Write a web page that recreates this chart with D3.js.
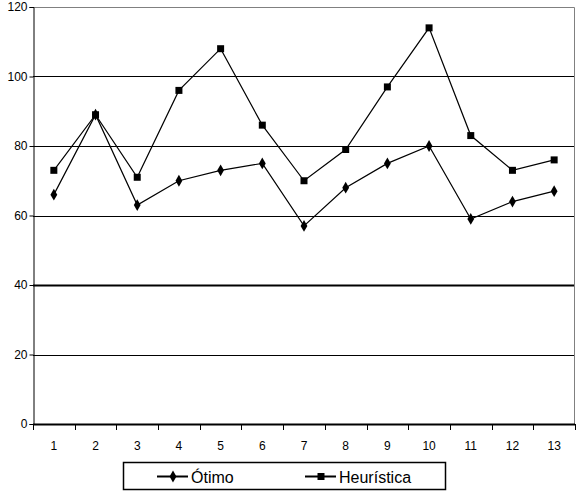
<!DOCTYPE html>
<html>
<head>
<meta charset="utf-8">
<script src="https://cdn.jsdelivr.net/npm/d3@7"></script>
<style>
  body { margin: 0; background: #fff; }
  text { font-family: Arial, "Liberation Sans", sans-serif; fill: #000; }
</style>
</head>
<body>
<svg id="chart" width="576" height="491"></svg>
<script>
// values
const categories = ["1", "2", "3", "4", "5", "6", "7", "8", "9", "10", "11", "12", "13"];
const otimo = [66, 89, 63, 70, 73, 75, 57, 68, 75, 80, 59, 64, 67];
const heuristica = [73, 89, 71, 96, 108, 86, 70, 79, 97, 114, 83, 73, 76];
const yTicks = [0, 20, 40, 60, 80, 100, 120];
const seriesNames = ["Ótimo", "Heurística"];

const svg = d3.select("#chart");
const plotL = 33, plotR = 575, plotT = 7, plotB = 424;

const x = d3.scaleBand().domain(categories).range([plotL, plotR]);
const y = d3.scaleLinear().domain([0, 120]).range([plotB, plotT]);

// gridlines
svg.append("g").selectAll("line")
    .data(yTicks.filter(d => d > 0 && d < 120))
    .join("line")
    .attr("x1", plotL).attr("x2", plotR)
    .attr("y1", d => Math.round(y(d)) + 0.5).attr("y2", d => Math.round(y(d)) + 0.5)
    .attr("stroke", "#000")
    .attr("stroke-width", d => d == 40 ? 2 : 1);

// plot area border (top and right, grey)
svg.append("path")
    .attr("d", `M${plotL},${plotT + 0.5}H${plotR - 0.5}V${plotB}`)
    .attr("fill", "none").attr("stroke", "#808080");

// y axis
const yAxis = svg.append("g")
    .attr("transform", `translate(${plotL + 0.5},0)`)
    .call(d3.axisLeft(y).tickValues(yTicks).tickSize(4).tickPadding(2));
yAxis.select(".domain").attr("stroke", "#000");
yAxis.selectAll("text").style("font-size", "12px");

// x axis with ticks between categories
svg.append("line")
    .attr("x1", plotL).attr("x2", plotR)
    .attr("y1", plotB + 0.5).attr("y2", plotB + 0.5)
    .attr("stroke", "#000").attr("stroke-width", 2);
svg.append("g").selectAll("line")
    .data(categories.concat([null]))
    .join("line")
    .attr("x1", (d, i) => Math.round(plotL + i * x.step()) + 0.5)
    .attr("x2", (d, i) => Math.round(plotL + i * x.step()) + 0.5)
    .attr("y1", plotB).attr("y2", plotB + 6)
    .attr("stroke", "#000");
svg.append("g").selectAll("text")
    .data(categories)
    .join("text")
    .attr("x", d => x(d) + x.bandwidth() / 2)
    .attr("y", plotB + 26)
    .attr("text-anchor", "middle")
    .style("font-size", "12px")
    .text(d => d);

const line = d3.line()
    .x((d, i) => x(categories[i]) + x.bandwidth() / 2)
    .y(d => y(d));

const diamond = d3.symbol().type(d3.symbolDiamond).size(40);
const square = d3.symbol().type(d3.symbolSquare).size(49);

function drawSeries(values, sym) {
    svg.append("path")
        .datum(values)
        .attr("d", line)
        .attr("fill", "none").attr("stroke", "#000").attr("stroke-width", 1.2);
    svg.append("g").selectAll("path")
        .data(values)
        .join("path")
        .attr("transform", (d, i) => `translate(${x(categories[i]) + x.bandwidth() / 2},${y(d)})`)
        .attr("d", sym)
        .attr("fill", "#000");
}
drawSeries(otimo, diamond);
drawSeries(heuristica, square);

// legend
const lg = svg.append("g");
lg.append("rect")
    .attr("x", 123.5).attr("y", 462.5).attr("width", 322).attr("height", 27)
    .attr("fill", "#fff").attr("stroke", "#000").attr("stroke-width", 1.5);
const items = [
    { name: seriesNames[0], x0: 157, sym: diamond },
    { name: seriesNames[1], x0: 305, sym: square }
];
items.forEach(it => {
    lg.append("line")
        .attr("x1", it.x0).attr("x2", it.x0 + 31)
        .attr("y1", 476.5).attr("y2", 476.5)
        .attr("stroke", "#000").attr("stroke-width", 2);
    lg.append("path")
        .attr("transform", `translate(${it.x0 + 16},476.5)`)
        .attr("d", it.sym)
        .attr("fill", "#000");
    lg.append("text")
        .attr("x", it.x0 + 34).attr("y", 483)
        .style("font-size", "16px")
        .text(it.name);
});
</script>
</body>
</html>
